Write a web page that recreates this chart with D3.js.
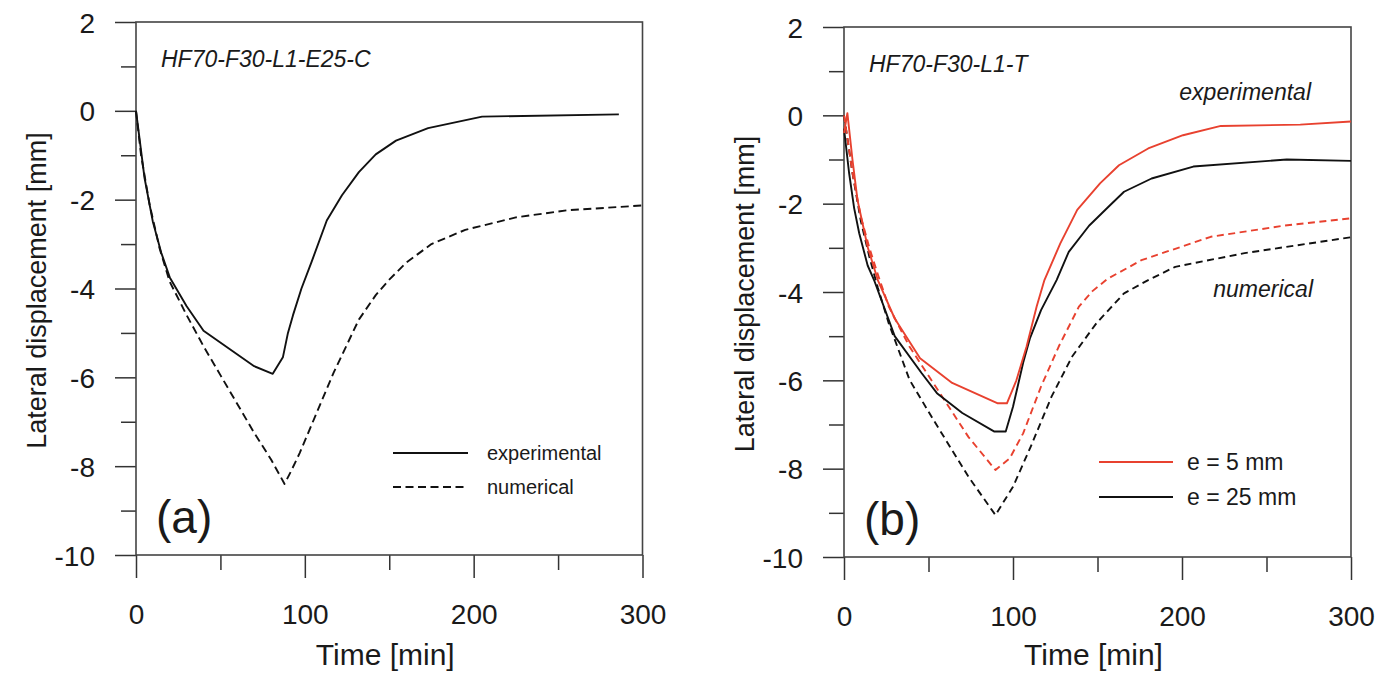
<!DOCTYPE html>
<html>
<head>
<meta charset="utf-8">
<script src="https://cdn.jsdelivr.net/npm/d3@7"></script>
<style>
  body { margin: 0; background: #fff; }
  svg text { font-family: "Liberation Sans", Arial, sans-serif; fill: #1a1a1a; }
</style>
</head>
<body>
<div id="chart"></div>
<script>
"use strict";

// Data, [time (min), lateral displacement (mm)]
// ----

// (a) HF70-F30-L1-E25-C
var aExperimental = [
  [0, 0], [2, -0.6], [5, -1.5], [10, -2.5], [15, -3.2], [20, -3.75], [30, -4.4],
  [40, -4.95], [55, -5.35], [70, -5.75], [81, -5.92], [87, -5.55], [90, -5.0],
  [93, -4.6], [98, -4.0], [104, -3.4], [113, -2.47], [122, -1.9], [132, -1.38],
  [142, -0.98], [154, -0.67], [173, -0.39], [205, -0.13], [286, -0.08]
];
var aNumerical = [
  [0, 0], [3, -1.0], [8, -2.1], [14, -3.1], [20, -3.85], [30, -4.6], [40, -5.3],
  [50, -5.95], [60, -6.6], [70, -7.25], [80, -7.85], [88, -8.4], [92, -8.1],
  [97, -7.7], [107, -6.8], [117, -5.9], [132, -4.7], [142, -4.15], [150, -3.8],
  [160, -3.42], [175, -3.0], [195, -2.68], [225, -2.4], [255, -2.24], [300, -2.13]
];

// (b) HF70-F30-L1-T
var bExp5 = [
  [0, -0.4], [2, 0.05], [5, -1.0], [8, -1.92], [14, -2.98], [20, -3.73], [30, -4.6],
  [45, -5.5], [64, -6.06], [91, -6.52], [96.4, -6.52], [102, -6.0], [108, -5.24],
  [114, -4.33], [118.6, -3.73], [128, -2.9], [138, -2.14], [151.5, -1.54],
  [162.7, -1.13], [180, -0.75], [200.6, -0.45], [223, -0.24], [270, -0.21], [300, -0.14]
];
var bExp25 = [
  [0, -0.3], [3, -1.3], [6, -2.1], [9, -2.67], [14, -3.4], [18, -3.75], [30, -5.0],
  [46, -5.84], [55, -6.29], [70, -6.74], [89, -7.16], [95.7, -7.16], [100, -6.6],
  [106, -5.6], [110, -5.05], [116.6, -4.41], [125.8, -3.73], [133, -3.09],
  [145, -2.5], [156.5, -2.07], [165.7, -1.73], [182, -1.43], [206.7, -1.16],
  [262, -1.0], [300, -1.03]
];
var bNum5 = [
  [0, 0], [5, -1.3], [10, -2.3], [15, -3.0], [20, -3.6], [26.5, -4.33], [38.8, -5.24],
  [53, -6.07], [73.6, -7.28], [89.6, -8.03], [98, -7.77], [106, -7.2], [116.6, -6.14],
  [127, -5.24], [139, -4.33], [147, -3.98], [156, -3.7], [176, -3.28], [217, -2.75],
  [260, -2.5], [300, -2.33]
];
var bNum25 = [
  [0, 0], [5, -1.3], [10, -2.4], [15, -3.2], [20, -3.9], [26.5, -4.71], [38.8, -5.99],
  [53, -6.9], [73.6, -8.18], [89.6, -9.05], [100, -8.41], [110.5, -7.5],
  [122.8, -6.37], [135, -5.46], [149.3, -4.71], [165.7, -4.03], [180, -3.73],
  [196, -3.43], [237, -3.12], [300, -2.76]
];

// Ticks
var xMajor = [0, 100, 200, 300];
var xMinor = [50, 150, 250];
var yMajor = [2, 0, -2, -4, -6, -8, -10];
var yMinor = [1, -1, -3, -5, -7, -9];

var black = "#111", red = "#e8412f";


// Panels
// ------

var panels = [
  { left: 136, right: 642.5, top: 22, bottom: 555, tag: "(a)", name: "HF70-F30-L1-E25-C",
    ylab: 46, series: [
      { data: aExperimental, color: black, dash: null },
      { data: aNumerical, color: black, dash: "8,4.5" }
    ] },
  { left: 844, right: 1351, top: 27, bottom: 557, tag: "(b)", name: "HF70-F30-L1-T",
    ylab: 754, series: [
      { data: bNum25, color: black, dash: "7,4.5" },
      { data: bNum5, color: red, dash: "7,4.5" },
      { data: bExp25, color: black, dash: null },
      { data: bExp5, color: red, dash: null }
    ] }
];

var svg = d3.select("#chart").append("svg")
    .attr("width", 1386)
    .attr("height", 675);

// plain hyphen for negatives, as in the original figure
function fmt(d) { return String(d); }

function styleAxis(g) {
  g.select(".domain").remove();
  g.selectAll(".tick line").attr("stroke", "#333").attr("stroke-width", 1.5);
  g.selectAll("text").style("font-size", "28px").attr("fill", "#1a1a1a");
}

panels.forEach(function(p) {

  var x = d3.scaleLinear().domain([0, 300]).range([p.left, p.right]),
      y = d3.scaleLinear().domain([-10, 2]).range([p.bottom, p.top]),
      g = svg.append("g");

  // Axis ticks

  g.append("g").attr("transform", "translate(" + p.left + ",0)")
      .call(d3.axisLeft(y).tickValues(yMinor).tickSize(15).tickFormat(""))
      .call(styleAxis);

  g.append("g").attr("transform", "translate(" + p.left + ",0)")
      .call(d3.axisLeft(y).tickValues(yMajor).tickSize(21).tickPadding(20).tickFormat(fmt))
      .call(styleAxis)
      .selectAll("text").attr("dy", "0.36em");

  g.append("g").attr("transform", "translate(0," + p.bottom + ")")
      .call(d3.axisBottom(x).tickValues(xMinor).tickSize(15).tickFormat(""))
      .call(styleAxis);

  g.append("g").attr("transform", "translate(0," + p.bottom + ")")
      .call(d3.axisBottom(x).tickValues(xMajor).tickSize(23).tickFormat(fmt))
      .call(styleAxis)
      .selectAll("text").attr("y", 69).attr("dy", 0);

  // Frame

  g.append("rect")
      .attr("x", p.left).attr("y", p.top)
      .attr("width", p.right - p.left).attr("height", p.bottom - p.top)
      .attr("fill", "none").attr("stroke", "#444").attr("stroke-width", 1.6);

  // Curves

  var line = d3.line().x(function(d) { return x(d[0]); }).y(function(d) { return y(d[1]); });

  p.series.forEach(function(s) {
    g.append("path")
        .datum(s.data)
        .attr("d", line)
        .attr("fill", "none")
        .attr("stroke", s.color)
        .attr("stroke-width", 1.9)
        .attr("stroke-linejoin", "round")
        .attr("stroke-dasharray", s.dash);
  });

  // Labels

  g.append("text")
      .attr("x", (p.left + p.right) / 2 - 4).attr("y", 665)
      .attr("text-anchor", "middle").style("font-size", "30px")
      .text("Time [min]");

  g.append("text")
      .attr("transform", "translate(" + p.ylab + "," + ((p.top + p.bottom) / 2 + 2) + ") rotate(-90)")
      .attr("text-anchor", "middle").style("font-size", "27px")
      .text("Lateral displacement [mm]");

  g.append("text")
      .attr("x", p.left + 20).attr("y", p.bottom - 22)
      .style("font-size", "46px")
      .text(p.tag);

  g.append("text")
      .attr("x", p.left + 25).attr("y", p.top + 45)
      .style("font-size", "23px").style("font-style", "italic")
      .text(p.name);

  p.x = x; p.y = y; p.g = g;
});


// Legends and annotations
// -----------------------

var pa = panels[0], pb = panels[1];

[["experimental", null, 453], ["numerical", "8,4.5", 487]].forEach(function(l) {
  pa.g.append("line")
      .attr("x1", 393).attr("x2", 468).attr("y1", l[2]).attr("y2", l[2])
      .attr("stroke", black).attr("stroke-width", 1.9).attr("stroke-dasharray", l[1]);
  pa.g.append("text")
      .attr("x", 487).attr("y", l[2] + 7)
      .style("font-size", "20px")
      .text(l[0]);
});

[["e = 5 mm", red, 462], ["e = 25 mm", black, 497]].forEach(function(l) {
  pb.g.append("line")
      .attr("x1", 1099).attr("x2", 1173).attr("y1", l[2]).attr("y2", l[2])
      .attr("stroke", l[1]).attr("stroke-width", 1.9);
  pb.g.append("text")
      .attr("x", 1187).attr("y", l[2] + 8)
      .style("font-size", "23px")
      .text(l[0]);
});

pb.g.append("text")
    .attr("x", 1311).attr("y", 100)
    .attr("text-anchor", "end")
    .style("font-size", "23px").style("font-style", "italic")
    .text("experimental");

pb.g.append("text")
    .attr("x", 1313).attr("y", 297)
    .attr("text-anchor", "end")
    .style("font-size", "23px").style("font-style", "italic")
    .text("numerical");

</script>
</body>
</html>
